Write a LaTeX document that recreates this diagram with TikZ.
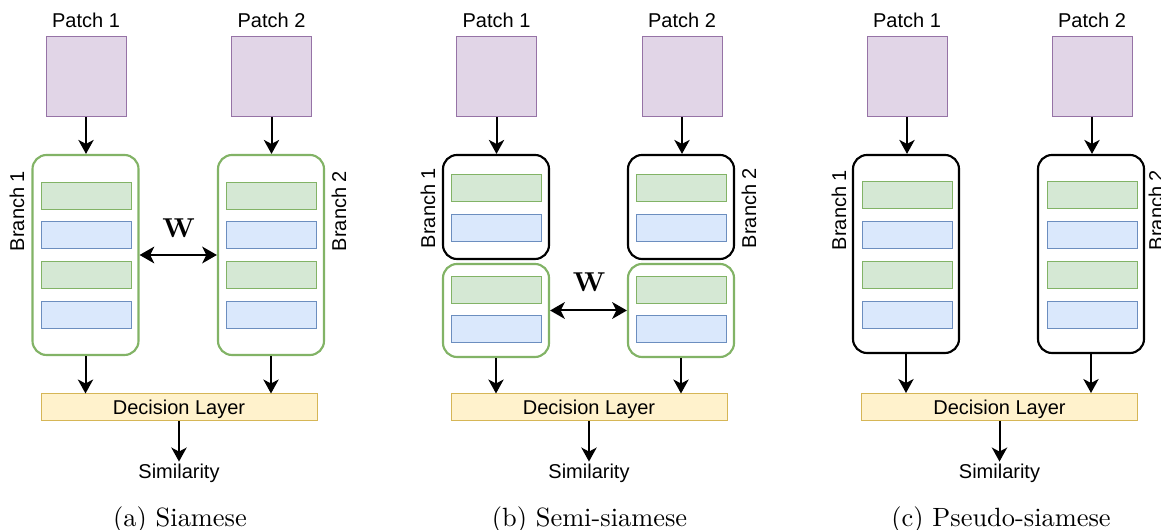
\documentclass[tikz,border=0pt]{standalone}
\usepackage{fontspec}
\usepackage{amsmath}
\usepackage{bm}
\usetikzlibrary{arrows.meta}
\newfontfamily\diagfont{Liberation Sans}
\newfontfamily\capfont{lmroman10-regular.otf}[BoldFont=lmroman10-bold.otf]

\definecolor{patchfill}{HTML}{E1D5E7}
\definecolor{patchline}{HTML}{9673A6}
\definecolor{greenfill}{HTML}{D5E8D4}
\definecolor{greenline}{HTML}{82B366}
\definecolor{bluefill}{HTML}{DAE8FC}
\definecolor{blueline}{HTML}{6C8EBF}
\definecolor{yellowfill}{HTML}{FFF2CC}
\definecolor{yellowline}{HTML}{D6B656}

\tikzset{
  sans/.style={font=\diagfont\fontsize{15}{18}\selectfont},
  patch/.style={draw=patchline, fill=patchfill, line width=0.75pt, minimum width=60pt, minimum height=60pt, inner sep=0pt},
  branch/.style={draw=black, fill=white, line width=1.6pt, rounded corners=10.5pt, minimum width=79.5pt, inner sep=0pt},
  shared/.style={branch, draw=greenline},
  greenlayer/.style={draw=greenline, fill=greenfill, line width=0.75pt, minimum width=67.5pt, minimum height=20.25pt, inner sep=0pt},
  bluelayer/.style={draw=blueline, fill=bluefill, line width=0.75pt, minimum width=67.5pt, minimum height=20.25pt, inner sep=0pt},
  decision/.style={sans, draw=yellowline, fill=yellowfill, line width=0.75pt, minimum width=207pt, minimum height=20.25pt, inner sep=0pt, text height=10.7pt, text depth=0pt},
  txt/.style={sans, inner sep=2pt, anchor=base},
  side/.style={sans, inner sep=0.75pt, rotate=90},
  weight/.style={font=\capfont\bfseries\fontsize{20.5}{24}\selectfont, inner sep=0.75pt},
  caption/.style={font=\capfont\fontsize{19.8}{24}\selectfont, inner sep=0.75pt, anchor=base},
  arr/.style={line width=1.5pt, -{Stealth[length=10.5pt, width=11.5pt, inset=3pt]}},
  duoarr/.style={line width=1.5pt, {Stealth[length=11pt, width=12.5pt, inset=3pt]}-{Stealth[length=11pt, width=12.5pt, inset=3pt]}},
}

\begin{document}
\begin{tikzpicture}[x=0.75pt,y=0.75pt,yscale=-1,xscale=1]
\useasboundingbox (0,0) rectangle (1161,530);

%%%%%%%%%% (a) Siamese
% Patches
\node [txt] (pa1t) at (86,28) {Patch 1};
\node [txt] (pa2t) at (271.5,28) {Patch 2};
\node [patch] (pa1) at (86,77) {};
\node [patch] (pa2) at (271.5,77) {};
% Branches
\node [shared, minimum height=150pt] (ba1) at (85.5,255) {};
\node [shared, minimum height=150pt] (ba2) at (271,255) {};
\node [greenlayer] (la1) at (86,196.5) {};
\node [bluelayer] (la2) at (86,235.5) {};
\node [greenlayer] (la3) at (86,275.5) {};
\node [bluelayer] (la4) at (86,315.5) {};
\node [greenlayer] (la5) at (271,196.5) {};
\node [bluelayer] (la6) at (271,235.5) {};
\node [greenlayer] (la7) at (271,275.5) {};
\node [bluelayer] (la8) at (271,315.5) {};
\node [side] (sa1) at (17,211) {Branch 1};
\node [side] (sa2) at (339,211) {Branch 2};
% Shared weights
\node [weight] (wa) at (178.5,228) {W};
\draw [duoarr] (ba1.east) -- (ba2.west);
% Decision
\node [decision] (da) at (179,407.5) {Decision Layer};
\node [txt] (ya) at (179,479) {Similarity};
\node [caption] (ca) at (180,527) {(a) Siamese};
\draw [arr] (pa1) -- (pa1 |- ba1.north);
\draw [arr] (pa2) -- (pa2 |- ba2.north);
\draw [arr] (ba1) -- (ba1 |- da.north);
\draw [arr] (ba2) -- (ba2 |- da.north);
\draw [arr] (da) -- (ya);

%%%%%%%%%% (b) Semi-siamese
% Patches
\node [txt] (pb1t) at (496.5,28) {Patch 1};
\node [txt] (pb2t) at (682,28) {Patch 2};
\node [patch] (pb1) at (496.5,77) {};
\node [patch] (pb2) at (682,77) {};
% Branches, own part
\node [branch, minimum height=78pt] (bb1) at (496,207) {};
\node [branch, minimum height=78pt] (bb2) at (681,207) {};
\node [greenlayer] (lb1) at (496.5,188.5) {};
\node [bluelayer] (lb2) at (496.5,228) {};
\node [greenlayer] (lb3) at (681.5,188.5) {};
\node [bluelayer] (lb4) at (681.5,228) {};
% Branches, shared part
\node [shared, minimum height=69.75pt] (bb3) at (496,310.5) {};
\node [shared, minimum height=69.75pt] (bb4) at (681,310.5) {};
\node [greenlayer] (lb5) at (496.5,290) {};
\node [bluelayer] (lb6) at (496.5,329.5) {};
\node [greenlayer] (lb7) at (681.5,290) {};
\node [bluelayer] (lb8) at (681.5,329.5) {};
\node [side] (sb1) at (428,208) {Branch 1};
\node [side] (sb2) at (749,208) {Branch 2};
% Shared weights
\node [weight] (wb) at (589,282) {W};
\draw [duoarr] (bb3.east) -- (bb4.west);
% Decision
\node [decision] (db) at (589,407.5) {Decision Layer};
\node [txt] (yb) at (589,479) {Similarity};
\node [caption] (cb) at (589.5,527) {(b) Semi-siamese};
\draw [arr] (pb1) -- (pb1 |- bb1.north);
\draw [arr] (pb2) -- (pb2 |- bb2.north);
\draw [arr] (bb3) -- (bb3 |- db.north);
\draw [arr] (bb4) -- (bb4 |- db.north);
\draw [arr] (db) -- (yb);

%%%%%%%%%% (c) Pseudo-siamese
% Patches
\node [txt] (pc1t) at (907,28) {Patch 1};
\node [txt] (pc2t) at (1092,28) {Patch 2};
\node [patch] (pc1) at (907,77) {};
\node [patch] (pc2) at (1092,77) {};
% Branches
\node [branch, minimum height=148.5pt] (bc1) at (906,254) {};
\node [branch, minimum height=148.5pt] (bc2) at (1091,254) {};
\node [greenlayer] (lc1) at (907,195.5) {};
\node [bluelayer] (lc2) at (907,235) {};
\node [greenlayer] (lc3) at (907,275) {};
\node [bluelayer] (lc4) at (907,315) {};
\node [greenlayer] (lc5) at (1092,195.5) {};
\node [bluelayer] (lc6) at (1092,235) {};
\node [greenlayer] (lc7) at (1092,275) {};
\node [bluelayer] (lc8) at (1092,315) {};
\node [side] (sc1) at (839,210) {Branch 1};
\node [side] (sc2) at (1156,210) {Branch 2};
% Decision
\node [decision] (dc) at (999.5,407) {Decision Layer};
\node [txt] (yc) at (999.5,479) {Similarity};
\node [caption] (cc) at (1001,527) {(c) Pseudo-siamese};
\draw [arr] (pc1) -- (pc1 |- bc1.north);
\draw [arr] (pc2) -- (pc2 |- bc2.north);
\draw [arr] (bc1) -- (bc1 |- dc.north);
\draw [arr] (bc2) -- (bc2 |- dc.north);
\draw [arr] (dc) -- (yc);

\end{tikzpicture}
\end{document}
